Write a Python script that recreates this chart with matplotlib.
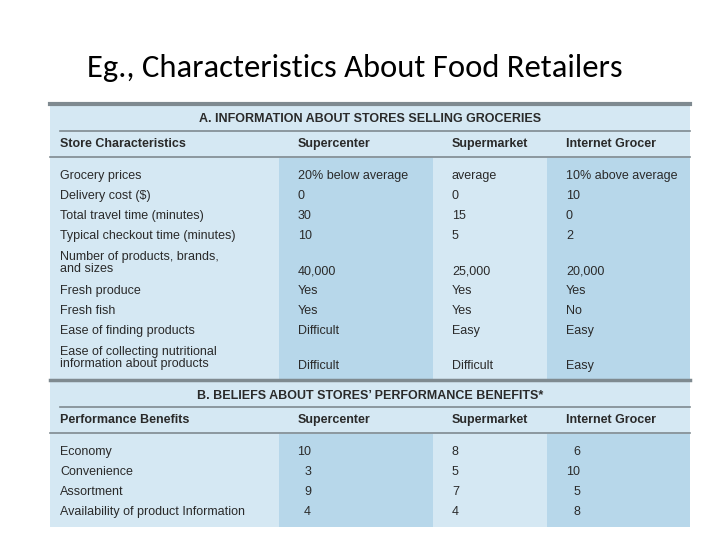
import matplotlib
matplotlib.use("Agg")
import matplotlib.pyplot as plt
from matplotlib import font_manager as fm

names = {f.name for f in fm.fontManager.ttflist}
FONT = "Liberation Sans Narrow" if "Liberation Sans Narrow" in names else "Liberation Sans"
TFONT = "Carlito" if "Carlito" in names else "Lato"

title = "Eg., Characteristics About Food Retailers"
section_a = "A. INFORMATION ABOUT STORES SELLING GROCERIES"
section_b = "B. BELIEFS ABOUT STORES\u2019 PERFORMANCE BENEFITS*"
stores = ["Supercenter", "Supermarket", "Internet Grocer"]

char_labels = ["Grocery prices", "Delivery cost ($)", "Total travel time (minutes)",
               "Typical checkout time (minutes)", "Number of products, brands,\nand sizes",
               "Fresh produce", "Fresh fish", "Ease of finding products",
               "Ease of collecting nutritional\ninformation about products"]
supercenter_a = ["20% below average", "0", "30", "10", "40,000", "Yes", "Yes", "Difficult", "Difficult"]
supermarket_a = ["average", "0", "15", "5", "25,000", "Yes", "Yes", "Easy", "Difficult"]
internet_a = ["10% above average", "10", "0", "2", "20,000", "Yes", "No", "Easy", "Easy"]

benefit_labels = ["Economy", "Convenience", "Assortment", "Availability of product Information"]
supercenter_b = [10, 3, 9, 4]
supermarket_b = [8, 5, 7, 4]
internet_b = [6, 10, 5, 8]

fig = plt.figure(figsize=(7.2, 5.4), dpi=100)
ax = fig.add_axes([0, 0, 1, 1])
ax.set_xlim(0, 720); ax.set_ylim(540, 0); ax.axis("off")

light = "#d5e8f3"; dark = "#b7d7ea"; line = "#7f8a90"; txt = "#2a2a2a"
ax.add_patch(plt.Rectangle((50, 103), 640, 424, color=light, lw=0))
for y0, y1 in [(158, 380), (434, 527)]:
    ax.add_patch(plt.Rectangle((279, y0), 154, y1 - y0, color=dark, lw=0))
    ax.add_patch(plt.Rectangle((547, y0), 143, y1 - y0, color=dark, lw=0))
for y, x0, w in [(104, 50, 3), (131, 60, 1.2), (157, 50, 1.2), (380, 50, 2.5), (407, 60, 1.2), (433, 50, 1.2)]:
    ax.plot([x0, 690], [y, y], color=line, lw=w)

ax.text(355, 68, title, ha="center", va="center", fontsize=23.5, family=TFONT, color="black")
kw = dict(family=FONT, color=txt, fontsize=9, va="center")
ax.text(370, 119, section_a, ha="center", weight="bold", **kw)
ax.text(370, 396, section_b, ha="center", weight="bold", **kw)
colx = [298, 452, 566]
for yh, first in [(144, "Store Characteristics"), (420, "Performance Benefits")]:
    ax.text(60, yh, first, weight="bold", **kw)
    for x, s in zip(colx, stores):
        ax.text(x, yh, s, weight="bold", **kw)

rows_y = [176, 196, 216, 236, 263, 291, 311, 331, 358]
val_y = [176, 196, 216, 236, 271, 291, 311, 331, 366]
for i, lab in enumerate(char_labels):
    ax.text(60, rows_y[i], lab, linespacing=1.0, **kw)
    for x, col in zip(colx, [supercenter_a, supermarket_a, internet_a]):
        ax.text(x, val_y[i], col[i], **kw)

by = [452, 472, 492, 512]
for i, lab in enumerate(benefit_labels):
    ax.text(60, by[i], lab, **kw)
    ax.text(311, by[i], str(supercenter_b[i]), ha="right", **kw)
    ax.text(452, by[i], str(supermarket_b[i]), **kw)
    ax.text(580, by[i], str(internet_b[i]), ha="right", **kw)

fig.savefig("out.png", dpi=100)
